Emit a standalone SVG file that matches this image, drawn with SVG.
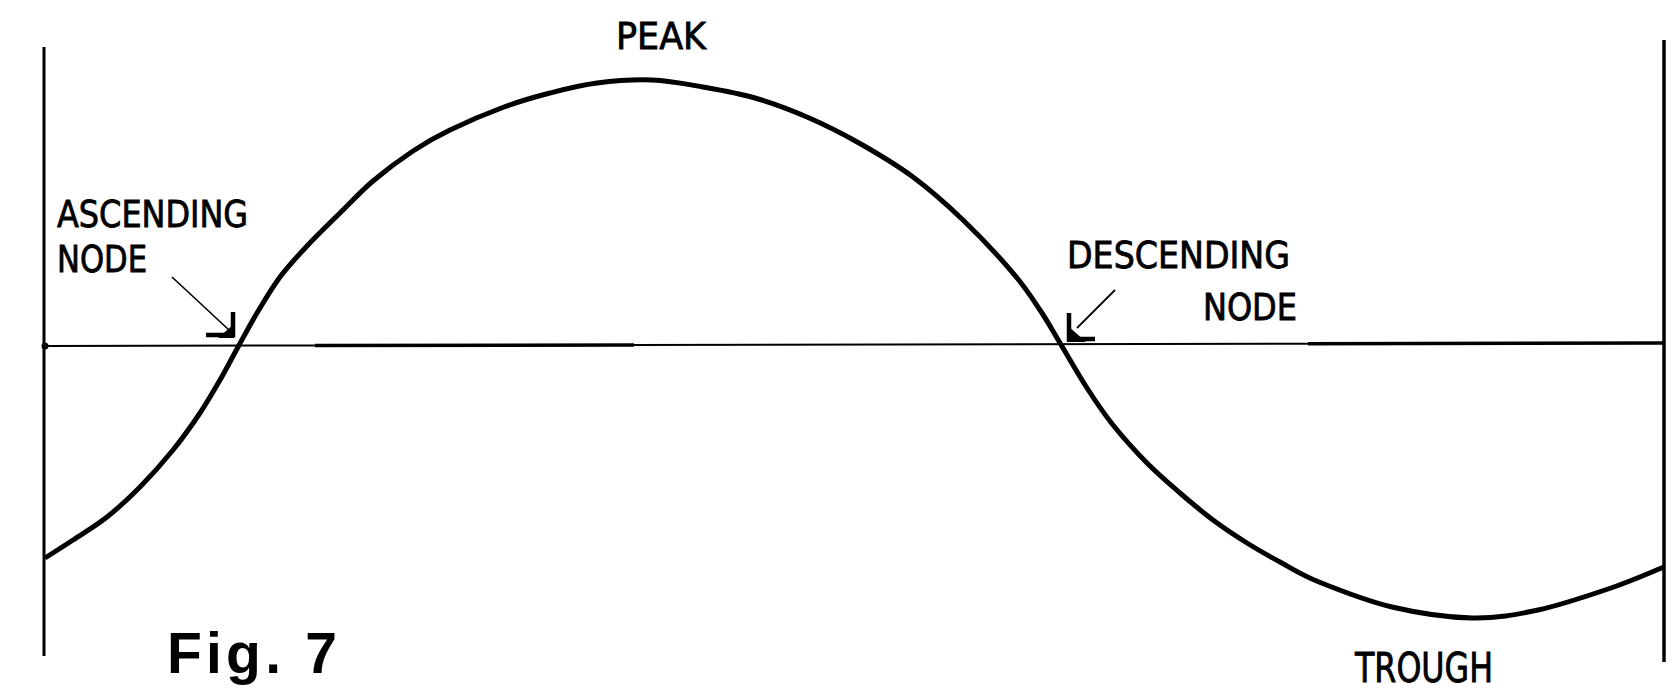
<svg xmlns="http://www.w3.org/2000/svg" width="1672" height="690" viewBox="0 0 1672 690">
<style>
.bg{fill:#fff}
.ln{stroke:#000;fill:none;stroke-linecap:butt}
.lbl{font-family:"DejaVu Sans Condensed","DejaVu Sans","Liberation Sans",sans-serif;font-stretch:condensed;font-size:38px;fill:#000;stroke:#000;stroke-width:0.8}
.fig{font-family:"Liberation Sans",Arial,sans-serif;font-weight:bold;font-size:57px;fill:#000}
.ah{fill:#000}
</style>
<rect class="bg" x="0" y="0" width="1672" height="690"/>
<g id="frame">
<line class="ln" x1="44" y1="47" x2="44" y2="656" stroke-width="3"/>
<line class="ln" x1="1664" y1="40" x2="1664" y2="662" stroke-width="3.5"/>
<line class="ln" x1="45" y1="346" x2="315" y2="345.5" stroke-width="2"/>
<line class="ln" x1="315" y1="345.5" x2="634" y2="344.9" stroke-width="3.5"/>
<line class="ln" x1="634" y1="344.9" x2="1308" y2="343.7" stroke-width="2"/>
<line class="ln" x1="1308" y1="343.7" x2="1664" y2="343" stroke-width="3.5"/>
<circle cx="45" cy="346" r="3.5" fill="#000"/>
</g>
<g id="wave">
<path class="ln" stroke-width="5" stroke-linejoin="round" d="M45,558 C49.67,555 62.67,546.83 73,540 C83.33,533.17 95.83,525.83 107,517 C118.17,508.17 129,498.17 140,487 C151,475.83 163,462.33 173,450 C183,437.67 192.17,424.67 200,413 C207.83,401.33 213.67,391 220,380 C226.33,369 231.83,358.17 238,347 C244.17,335.83 250,324.67 257,313 C264,301.33 271.67,288.17 280,277 C288.33,265.83 297,256.67 307,246 C317,235.33 329,223.83 340,213 C351,202.17 360.83,191.33 373,181 C385.17,170.67 400.17,159.5 413,151 C425.83,142.5 434.83,137.33 450,130 C465.17,122.67 487.33,113.17 504,107 C520.67,100.83 534.5,97 550,93 C565.5,89 580,85.17 597,83 C614,80.83 634.33,79.33 652,80 C669.67,80.67 685.83,84 703,87 C720.17,90 737.67,93 755,98 C772.33,103 789.67,109.5 807,117 C824.33,124.5 841.33,133 859,143 C876.67,153 895.67,164.17 913,177 C930.33,189.83 946.33,204 963,220 C979.67,236 1000.17,258 1013,273 C1025.83,288 1032.17,298.33 1040,310 C1047.83,321.67 1052.17,330 1060,343 C1067.83,356 1078.17,374.33 1087,388 C1095.83,401.67 1103,412.5 1113,425 C1123,437.5 1135.83,451.67 1147,463 C1158.17,474.33 1169,483.5 1180,493 C1191,502.5 1201.83,511.67 1213,520 C1224.17,528.33 1235.83,536 1247,543 C1258.17,550 1268,555.5 1280,562 C1292,568.5 1300.33,574.5 1319,582 C1337.67,589.5 1366.5,601 1392,607 C1417.5,613 1447.67,617.5 1472,618 C1496.33,618.5 1514.83,615 1538,610 C1561.17,605 1590,595.17 1611,588 C1632,580.83 1655.17,570.5 1664,567"/>
</g>
<g id="connectors">
<g id="arrow-ascending">
<line class="ln" x1="172" y1="277" x2="229" y2="330" stroke-width="1.6"/>
<path class="ln" d="M206,335 L233,335 L233,312" stroke-width="4.5"/>
<polygon class="ah" points="234,324 234,338 218,338"/>
</g>
<g id="arrow-descending">
<line class="ln" x1="1115" y1="290" x2="1077" y2="328" stroke-width="1.8"/>
<path class="ln" d="M1069,313 L1069,339 L1095,339" stroke-width="4.5"/>
<polygon class="ah" points="1067,325 1067,342 1086,342"/>
</g>
</g>
<g id="label-peak"><text class="lbl" x="616" y="49" textLength="90" lengthAdjust="spacingAndGlyphs">PEAK</text></g>
<g id="label-ascending-node">
<text class="lbl" x="57" y="227" textLength="191" lengthAdjust="spacingAndGlyphs">ASCENDING</text>
<text class="lbl" x="57" y="272" textLength="90" lengthAdjust="spacingAndGlyphs">NODE</text>
</g>
<g id="label-descending-node">
<text class="lbl" x="1067" y="268" textLength="223" lengthAdjust="spacingAndGlyphs">DESCENDING</text>
<text class="lbl" x="1203" y="320" textLength="94" lengthAdjust="spacingAndGlyphs">NODE</text>
</g>
<g id="label-trough"><text class="lbl" x="1355" y="682" textLength="138" lengthAdjust="spacingAndGlyphs" style="font-size:40px">TROUGH</text></g>
<g id="caption"><text class="fig" x="167" y="673" textLength="170" lengthAdjust="spacing">Fig. 7</text></g>
</svg>
